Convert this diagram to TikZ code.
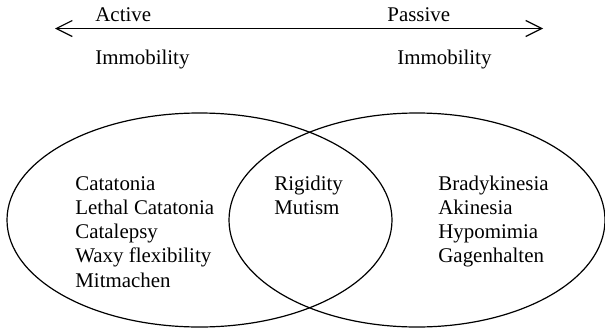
\documentclass[tikz,border=0pt]{standalone}
\usepackage{fontspec}
\setmainfont{Liberation Serif}
\usepackage{tikz}
\usetikzlibrary{arrows.meta,positioning}
\tikzset{
  lab/.style={inner sep=0pt, anchor=base west, font=\fontsize{10.45}{12.15}\selectfont},
  listlab/.style={lab, align=left},
  ring/.style={black, line width=0.6pt},
  flow/.style={{Straight Barb[length=8pt,width=8pt]}-{Straight Barb[length=8pt,width=8pt]}, line width=0.6pt},
}
\begin{document}
\begin{tikzpicture}[x=0.5pt,y=0.5pt]
  \path[use as bounding box] (0,0) rectangle (605,328);

  \coordinate (ACTEND) at (55,299.5);
  \coordinate (PASEND) at (543,299.5);
  \draw[flow] (ACTEND) -- (PASEND);
  \node[lab] (ACT) at (95,307) {Active};
  \node[lab] (PAS) at (387,307) {Passive};
  \node[lab] (ACTIM) at (95,264) {Immobility};
  \node[lab] (PASIM) at (397,264) {Immobility};

  \draw[ring] (199.5,108) ellipse [x radius=192.5, y radius=107];
  \draw[ring] (417,108) ellipse [x radius=188, y radius=107];

  % base of a multi-line node is its last line
  \node[listlab] (ACTLIST) at (75,40.8)
    {Catatonia\\Lethal Catatonia\\Catalepsy\\Waxy flexibility\\Mitmachen};
  \node[listlab] (BOTH) at (274,113.7) {Rigidity\\Mutism};
  \node[listlab] (PASLIST) at (438,65.1)
    {Bradykinesia\\Akinesia\\Hypomimia\\Gagenhalten};
\end{tikzpicture}
\end{document}
